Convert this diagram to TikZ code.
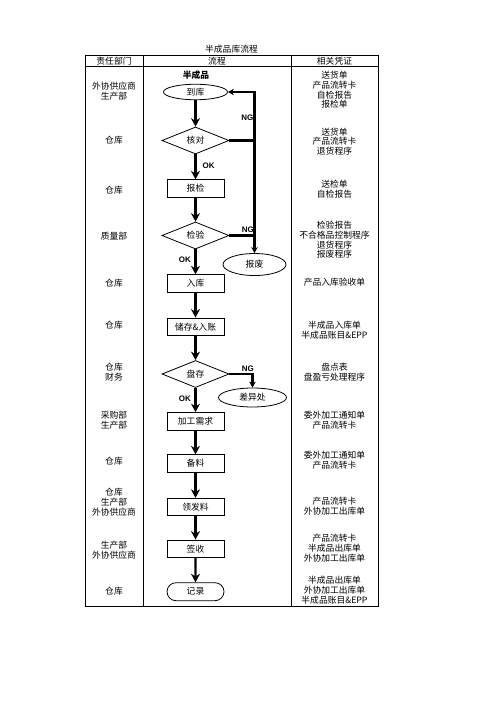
\documentclass[tikz,border=0pt]{standalone}
\usepackage{fontspec}
\setmainfont{Noto Sans CJK SC}
\newfontfamily\latinbf{Liberation Sans}
\usetikzlibrary{shapes,arrows.meta,positioning,calc}

\begin{document}
\begin{tikzpicture}[x=1bp,y=-1bp,
    font=\fontsize{8.8}{9.8}\selectfont,
    box/.style={draw,line width=0.8bp,rectangle,minimum width=57bp,minimum height=17.5bp,inner sep=0pt},
    check/.style={draw,line width=0.8bp,diamond,aspect=2.5,minimum width=67bp,minimum height=27bp,inner sep=0pt},
    oval/.style={draw,line width=0.8bp,ellipse,minimum width=64bp,minimum height=20bp,inner sep=0pt},
    flow/.style={line width=2.1bp,-{Stealth[length=8.5bp,width=9bp]}},
    ngflow/.style={line width=2.1bp,-{Stealth[length=6bp,width=6.5bp]}},
    link/.style={line width=2.1bp},
    tag/.style={font=\latinbf\bfseries\fontsize{8}{9}\selectfont,inner sep=0pt},
    cell/.style={align=center,inner sep=0pt}]
    \useasboundingbox (0,0) rectangle (496,702);

    % Table frame
    \node (title) at (231.5,49.5) {半成品库流程};
    \draw[line width=0.7bp] (85,55.5) rectangle (378,606);
    \draw[line width=0.7bp] (85,66) -- (378,66);
    \draw[line width=0.7bp] (143,55.5) -- (143,606);
    \draw[line width=0.7bp] (291,55.5) -- (291,606);
    \node (hdept) at (114,61) {责任部门};
    \node (hflow) at (217,61) {流程};
    \node (hdoc) at (334.5,61) {相关凭证};

    % Departments
    \node[cell] (d1) at (114,91) {外协供应商\\生产部};
    \node[cell] (d2) at (114,140.5) {仓库};
    \node[cell] (d3) at (114,190.5) {仓库};
    \node[cell] (d4) at (114,236.5) {质量部};
    \node[cell] (d5) at (114,283) {仓库};
    \node[cell] (d6) at (114,325.5) {仓库};
    \node[cell] (d7) at (114,372) {仓库\\财务};
    \node[cell] (d8) at (114,420) {采购部\\生产部};
    \node[cell] (d9) at (114,461) {仓库};
    \node[cell] (d10) at (114,502) {仓库\\生产部\\外协供应商};
    \node[cell] (d11) at (114,550.5) {生产部\\外协供应商};
    \node[cell] (d12) at (114,591.5) {仓库};

    % Documents
    \node[cell] (r1) at (334.5,90) {送货单\\产品流转卡\\自检报告\\报检单};
    \node[cell] (r2) at (334.5,141.5) {送货单\\产品流转卡\\退货程序};
    \node[cell] (r3) at (334.5,189.5) {送检单\\自检报告};
    \node[cell] (r4) at (334.5,240) {检验报告\\不合格品控制程序\\退货程序\\报废程序};
    \node[cell] (r5) at (334.5,282) {产品入库验收单};
    \node[cell] (r6) at (334.5,330) {半成品入库单\\半成品账目\&EPP};
    \node[cell] (r7) at (334.5,372.5) {盘点表\\盘盈亏处理程序};
    \node[cell] (r8) at (334.5,420) {委外加工通知单\\产品流转卡};
    \node[cell] (r9) at (334.5,460.5) {委外加工通知单\\产品流转卡};
    \node[cell] (r10) at (334.5,506.5) {产品流转卡\\外协加工出库单};
    \node[cell] (r11) at (334.5,548) {产品流转卡\\半成品出库单\\外协加工出库单};
    \node[cell] (r12) at (334.5,590) {半成品出库单\\外协加工出库单\\半成品账目\&EPP};

    % Flow
    \node[font=\fontsize{8.8}{9.8}\selectfont\bfseries] (start) at (196,75) {半成品};
    \node[oval,minimum height=15.5bp] (daoku) at (195.5,92) {到库};
    \node[check] (hedui) at (195.5,140.5) {核对};
    \node[box] (baojian) at (195.5,188.5) {报检};
    \node[check] (jianyan) at (195.5,235.5) {检验};
    \node[oval,minimum width=63bp,minimum height=22bp] (baofei) at (254.5,264.5) {报废};
    \node[box] (ruku) at (195.5,283.5) {入库};
    \node[box] (chucun) at (195.5,326.7) {储存\&入账};
    \node[check] (pancun) at (195.5,374) {盘存};
    \node[oval,minimum width=68bp,minimum height=19bp] (chayi) at (252.5,397.5) {差异处};
    \node[box] (jiagong) at (195.5,421.3) {加工需求};
    \node[box] (beiliao) at (195.5,463.5) {备料};
    \node[box] (lingfa) at (195.5,507) {领发料};
    \node[box] (qianshou) at (195.5,548.7) {签收};
    \node[draw,line width=0.8bp,rounded rectangle,minimum width=57bp,minimum height=18bp,inner sep=0pt] (jilu) at (195.5,591.7) {记录};

    \draw[flow] (daoku) -- (hedui);
    \draw[flow] (hedui) -- (baojian);
    \draw[flow] (baojian) -- (jianyan);
    \draw[flow] (jianyan) -- (ruku);
    \draw[flow] (ruku) -- (chucun);
    \draw[flow] (chucun) -- (pancun);
    \draw[flow] (pancun) -- (jiagong);
    \draw[flow] (jiagong) -- (beiliao);
    \draw[flow] (beiliao) -- (lingfa);
    \draw[flow] (lingfa) -- (qianshou);
    \draw[flow] (qianshou) -- (jilu);

    % NG loops
    \coordinate (loop) at (254.5,92);
    \draw[ngflow] (hedui.east) -| (loop) -- (daoku.east);
    \draw[link] (loop |- hedui.east) -- (loop |- jianyan.east);
    \draw[ngflow] (jianyan.east) -| (baofei.north);
    \draw[ngflow] (pancun.east) -| (chayi.north);

    % Labels
    \node[tag,anchor=east] (ng1) at (253.5,117.5) {NG};
    \node[tag,anchor=east] (ng2) at (254,230) {NG};
    \node[tag,anchor=east] (ng3) at (254,368.3) {NG};
    \node[tag,anchor=west] (ok1) at (202.5,165.5) {OK};
    \node[tag,anchor=east] (ok2) at (191,259.3) {OK};
    \node[tag,anchor=east] (ok3) at (191,399) {OK};
\end{tikzpicture}
\end{document}
